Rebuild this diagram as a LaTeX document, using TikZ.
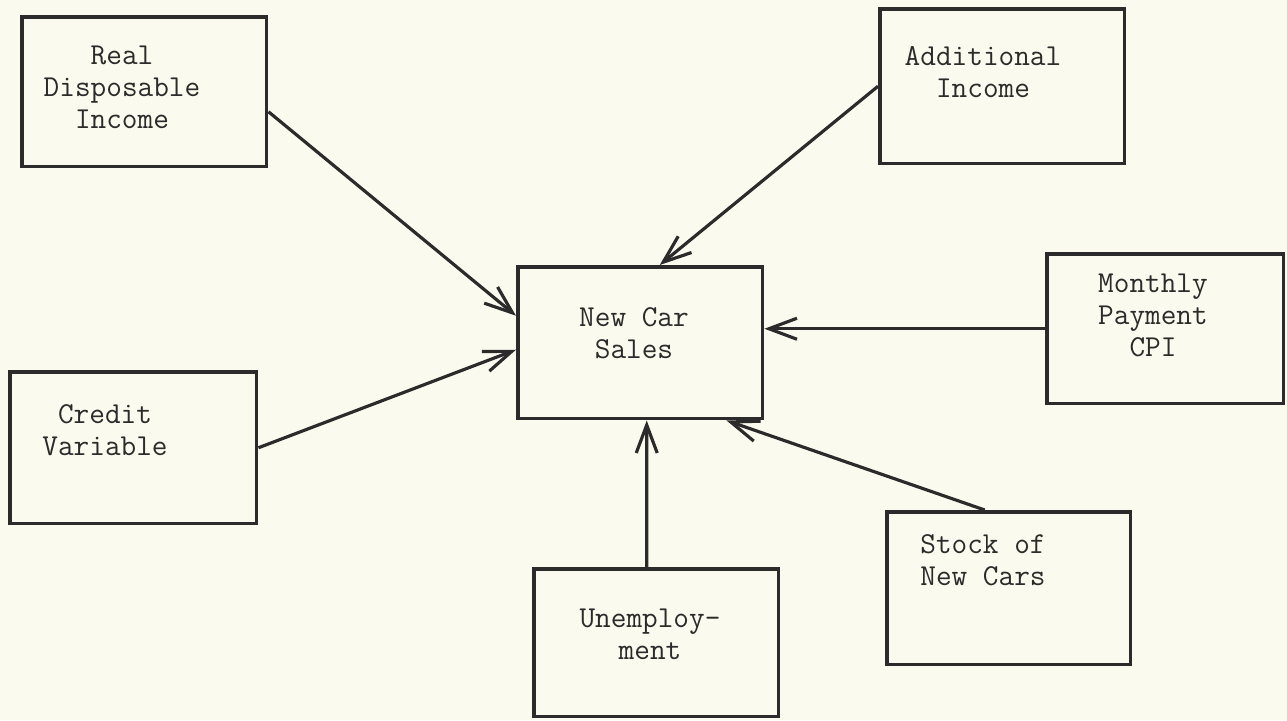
\documentclass[tikz,border=0pt]{standalone}
\usepackage{tikz}
\usetikzlibrary{arrows.meta, positioning, calc}
\usepackage{xcolor}
\definecolor{paper}{HTML}{FAFAEE}
\definecolor{ink}{HTML}{2B2B2B}

\begin{document}
\begin{tikzpicture}[
  x=0.02cm, y=-0.02cm,
  box/.style={
    rectangle, draw=ink, line width=2pt,
    anchor=north west, inner sep=0pt
  },
  txt/.style={
    anchor=north, inner sep=0pt, align=center, text=ink,
    font=\ttfamily\fontsize{17.3}{18.2}\selectfont
  },
  arr/.style={-{Straight Barb[length=5.6mm, width=4.2mm]}, line width=1.8pt, ink}
]
  % paper
  \fill[paper] (0,0) rectangle (1287,720);
  \useasboundingbox (0,0) rectangle (1287,720);

  % boxes
  \node[box, minimum width=4.9cm, minimum height=3cm] (rdi) at (20,15) {};
  \node[box, minimum width=4.9cm, minimum height=3.1cm] (ai) at (878,7) {};
  \node[box, minimum width=4.9cm, minimum height=3.04cm] (ncs) at (516,265) {};
  \node[box, minimum width=4.74cm, minimum height=3cm] (mpc) at (1045,252) {};
  \node[box, minimum width=4.94cm, minimum height=3.04cm] (crv) at (8,370) {};
  \node[box, minimum width=4.88cm, minimum height=3.06cm] (stk) at (885,510) {};
  \node[box, minimum width=4.9cm, minimum height=2.96cm] (une) at (532,567) {};

  % labels
  \node[txt] (rdi-t) at (122,46) {Real\\Disposable\\Income};
  \node[txt] (ai-t) at (983,46) {Additional\\Income};
  \node[txt] (ncs-t) at (634,307) {New Car\\Sales};
  \node[txt] (mpc-t) at (1153,274) {Monthly\\Payment\\CPI};
  \node[txt] (crv-t) at (105,404) {Credit\\Variable};
  \node[txt, anchor=north west, align=left] (stk-t) at (920,534) {Stock of\\New Cars};
  \node[txt] (une-t) at (650,609) {Unemploy-\\ment};

  % arrows into sales
  \draw[arr] ([yshift=-0.4cm]rdi.east) -- ([yshift=0.54cm]ncs.west);
  \draw[arr] (crv.east) -- ([yshift=-0.14cm]ncs.west);
  \draw[arr] (ai.west) -- ([xshift=0.39cm]ncs.north);
  \draw[arr] (mpc.west) -- (mpc.west -| ncs.east);
  \draw[arr] ([xshift=-0.19cm]une.north) -- ([xshift=0.13cm]ncs.south);
  \draw[arr] ([xshift=-0.48cm]stk.north) -- ([xshift=-0.76cm]ncs.south east);
\end{tikzpicture}
\end{document}
